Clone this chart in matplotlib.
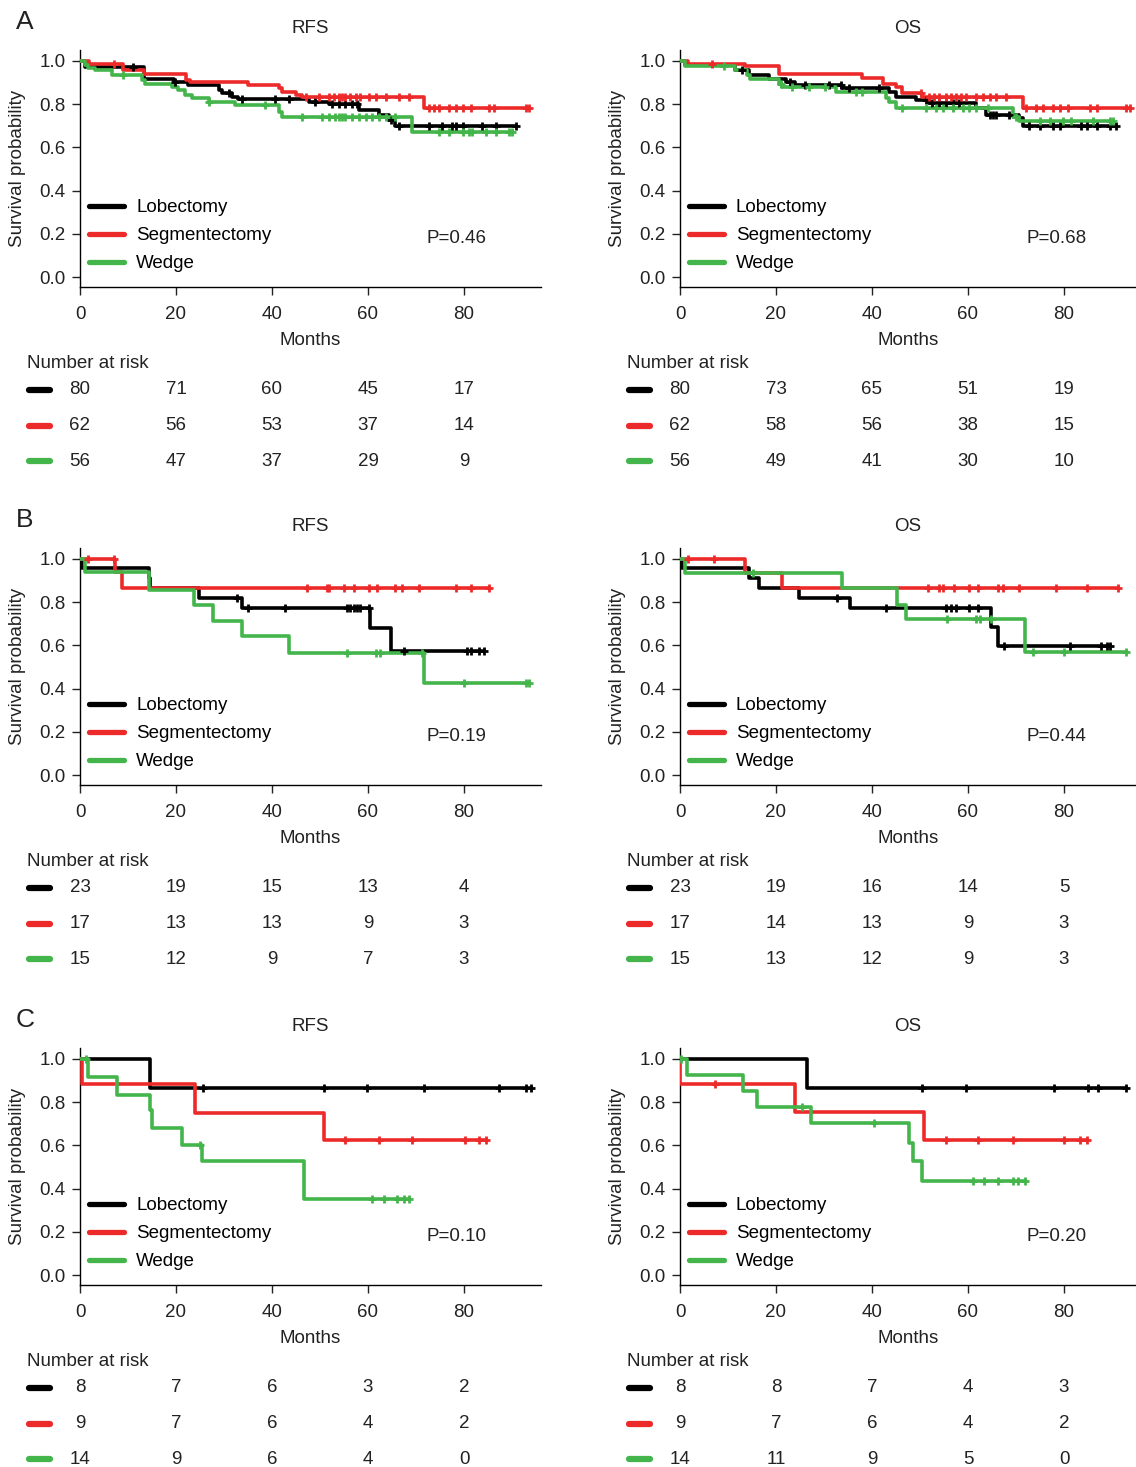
import numpy as np
import matplotlib
matplotlib.use("Agg")
import matplotlib.pyplot as plt
import matplotlib.transforms as mtransforms
from matplotlib.lines import Line2D

plt.rcParams['font.family'] = ['Liberation Sans', 'DejaVu Sans']

###########################################
# Colours and group names

groups = ["Lobectomy", "Segmentectomy", "Wedge"]
colors = ["#000000", "#ec2a2a", "#43b54a"]
risk_times = [0, 20, 40, 60, 80]

###########################################
# Panel A, RFS

a_rfs_lob_t = [0, 1.0, 13.3, 19.5, 22.6, 28.9, 29.6, 31.7, 33.0, 47.7, 51.8, 58.1, 62.3, 64.3, 65.7]
a_rfs_lob_s = [1.0, 0.972, 0.918, 0.90, 0.888, 0.865, 0.849, 0.834, 0.822, 0.81, 0.80, 0.772, 0.75, 0.726, 0.70]
a_rfs_lob_c = [11.1, 19.8, 31.0, 33.7, 40.7, 43.5, 49.0, 52.5, 53.9, 55.3, 56.7, 57.8, 64.7, 66.4,
               72.7, 75.5, 77.6, 78.3, 79.7, 83.8, 86.6, 90.8]
a_rfs_seg_t = [0, 1.8, 9.0, 13.3, 22.0, 23.0, 35.1, 41.4, 42.1, 44.9, 46.3, 71.7]
a_rfs_seg_s = [1.0, 0.985, 0.957, 0.94, 0.91, 0.90, 0.888, 0.872, 0.857, 0.84, 0.834, 0.78]
a_rfs_seg_c = [7.0, 47.0, 49.7, 51.8, 52.9, 53.9, 54.6, 55.3, 56.3, 57.4, 58.4, 60.2, 61.6, 63.7,
               66.4, 68.5, 72.7, 73.7, 74.8, 76.9, 78.3, 79.7, 81.4, 85.2, 86.3, 92.9, 93.6]
a_rfs_wed_t = [0, 1.0, 1.7, 3.1, 6.6, 12.9, 13.6, 19.1, 20.5, 21.9, 23.3, 26.8, 32.3, 41.4, 42.1, 69.2]
a_rfs_wed_s = [1.0, 0.98, 0.965, 0.957, 0.934, 0.91, 0.895, 0.88, 0.865, 0.84, 0.826, 0.81, 0.795,
               0.765, 0.742, 0.673]
a_rfs_wed_c = [9.0, 26.8, 38.6, 46.3, 50.4, 51.8, 53.2, 53.9, 54.6, 55.3, 56.7, 58.1, 59.5, 60.9,
               62.3, 63.7, 65.7, 74.8, 76.9, 79.7, 81.0, 81.7, 84.5, 86.6, 89.4, 90.1]
a_rfs_risk = [[80, 71, 60, 45, 17], [62, 56, 53, 37, 14], [56, 47, 37, 29, 9]]

###########################################
# Panel A, OS

a_os_lob_t = [0, 1.0, 11.5, 14.3, 18.5, 22.0, 24.0, 33.8, 43.5, 44.9, 49.1, 51.9, 61.7, 63.8, 70.7, 71.4]
a_os_lob_s = [1.0, 0.98, 0.957, 0.934, 0.918, 0.903, 0.888, 0.872, 0.857, 0.834, 0.818, 0.806,
              0.78, 0.75, 0.735, 0.70]
a_os_lob_c = [12.9, 23.0, 26.1, 31.0, 33.5, 35.2, 41.5, 51.2, 52.6, 54.0, 55.4, 56.8, 58.2, 64.5,
              65.2, 65.9, 68.6, 72.8, 74.9, 77.7, 79.1, 83.6, 84.7, 86.8, 89.5, 90.9]
a_os_seg_t = [0, 1.7, 13.6, 20.6, 38.0, 42.2, 45.0, 46.3, 50.5, 71.4]
a_os_seg_s = [1.0, 0.985, 0.975, 0.94, 0.92, 0.895, 0.88, 0.85, 0.834, 0.78]
a_os_seg_c = [6.6, 50.2, 51.9, 53.0, 54.0, 55.4, 56.4, 57.5, 58.5, 59.6, 61.7, 63.1, 64.5, 65.9,
              67.9, 72.1, 74.2, 75.6, 77.7, 79.1, 80.8, 85.4, 86.8, 93.0, 93.7]
a_os_wed_t = [0, 1.0, 11.5, 14.0, 14.6, 20.6, 21.3, 32.4, 42.9, 43.6, 45.0, 69.3, 70.7]
a_os_wed_s = [1.0, 0.975, 0.957, 0.934, 0.914, 0.895, 0.877, 0.857, 0.826, 0.81, 0.78, 0.74, 0.72]
a_os_wed_c = [9.1, 21.0, 23.3, 26.8, 30.3, 36.6, 38.0, 46.3, 51.2, 53.3, 54.7, 56.8, 58.9, 60.3,
              61.7, 64.1, 70.0, 74.9, 77.0, 79.8, 81.5, 86.1, 89.5, 90.2]
a_os_risk = [[80, 73, 65, 51, 19], [62, 58, 56, 38, 15], [56, 49, 41, 30, 10]]

###########################################
# Panel B, RFS

b_rfs_lob_t = [0, 0.4, 14.3, 14.6, 24.7, 33.7, 60.5, 64.7]
b_rfs_lob_s = [1.0, 0.957, 0.91, 0.865, 0.818, 0.772, 0.68, 0.572]
b_rfs_lob_c = [32.7, 35.1, 42.8, 55.7, 56.3, 57.0, 57.7, 58.4, 60.2, 67.5, 80.7, 81.4, 83.1, 84.2]
b_rfs_seg_t = [0, 7.3, 8.8]
b_rfs_seg_s = [1.0, 0.94, 0.865]
b_rfs_seg_c = [1.7, 7.0, 47.3, 51.5, 51.8, 55.0, 57.0, 60.2, 61.9, 65.7, 67.1, 70.6, 78.3, 81.4, 85.2]
b_rfs_wed_t = [0, 1.0, 14.3, 23.7, 27.8, 33.7, 43.5, 71.7]
b_rfs_wed_s = [1.0, 0.938, 0.857, 0.785, 0.714, 0.642, 0.565, 0.426]
b_rfs_wed_c = [55.7, 61.6, 62.6, 71.3, 80.0, 92.9, 93.6]
b_rfs_risk = [[23, 19, 15, 13, 4], [17, 13, 13, 9, 3], [15, 12, 9, 7, 3]]

###########################################
# Panel B, OS

b_os_lob_t = [0, 0.4, 14.3, 16.4, 24.7, 35.5, 64.8, 66.2]
b_os_lob_s = [1.0, 0.957, 0.91, 0.865, 0.818, 0.772, 0.683, 0.597]
b_os_lob_c = [32.8, 42.9, 55.4, 56.4, 57.5, 60.3, 62.0, 67.6, 81.2, 87.8, 88.9, 89.5]
b_os_seg_t = [0, 13.6, 21.3]
b_os_seg_s = [1.0, 0.934, 0.865]
b_os_seg_c = [1.7, 7.0, 51.6, 54.0, 54.7, 57.1, 60.3, 62.0, 66.2, 67.2, 70.7, 78.4, 84.7, 91.3]
b_os_wed_t = [0, 1.0, 33.8, 45.3, 47.0, 71.8]
b_os_wed_s = [1.0, 0.935, 0.865, 0.788, 0.72, 0.57]
b_os_wed_c = [15.3, 55.7, 61.7, 62.4, 64.8, 73.5, 80.1, 93.0]
b_os_risk = [[23, 19, 16, 14, 5], [17, 14, 13, 9, 3], [15, 13, 12, 9, 3]]

###########################################
# Panel C, RFS

c_rfs_lob_t = [0, 14.6]
c_rfs_lob_s = [1.0, 0.865]
c_rfs_lob_c = [25.7, 50.8, 59.8, 71.7, 87.3, 92.9, 93.9]
c_rfs_seg_t = [0, 0.35, 24.0, 50.8]
c_rfs_seg_s = [1.0, 0.883, 0.75, 0.626]
c_rfs_seg_c = [55.3, 62.3, 69.2, 80.3, 83.1, 84.5]
c_rfs_wed_t = [0, 1.6, 7.7, 14.6, 15.1, 21.2, 25.4, 46.6]
c_rfs_wed_s = [1.0, 0.914, 0.834, 0.765, 0.68, 0.603, 0.526, 0.35]
c_rfs_wed_c = [1.2, 25.0, 60.9, 63.3, 66.1, 67.5, 68.5]
c_rfs_risk = [[8, 7, 6, 3, 2], [9, 7, 6, 4, 2], [14, 9, 6, 4, 0]]

###########################################
# Panel C, OS

c_os_lob_t = [0, 26.5]
c_os_lob_s = [1.0, 0.865]
c_os_lob_c = [50.5, 59.6, 78.0, 85.0, 87.1, 93.0]
c_os_seg_t = [0, 0.1, 24.0, 50.9]
c_os_seg_s = [1.0, 0.883, 0.754, 0.626]
c_os_seg_c = [7.3, 55.4, 62.0, 69.3, 80.1, 83.3, 84.7]
c_os_wed_t = [0, 1.4, 13.2, 16.0, 27.2, 47.7, 48.6, 50.5]
c_os_wed_s = [1.0, 0.923, 0.852, 0.775, 0.703, 0.611, 0.526, 0.434]
c_os_wed_c = [0.3, 25.4, 40.4, 61.0, 63.4, 66.2, 69.3, 70.4, 71.8]
c_os_risk = [[8, 8, 7, 4, 3], [9, 7, 6, 4, 2], [14, 11, 9, 5, 0]]

###########################################
# Figure geometry in pixels (figure is 1136 x 1467)

W, H = 1136, 1467
col_left = [80, 680]
col_right = [541, 1136]
row_top = [50, 548, 1048]
row_bottom = [287, 785, 1285]


def fx(px):
    return px / W


def fy(py):
    return 1 - py / H


def km_curve(ax, t, s, c, color):
    end = max(max(c), t[-1])
    ax.step(t + [end], s + [s[-1]], where="post", color=color, lw=2.6, zorder=3)
    t_arr = np.array(t)
    s_arr = np.array(s)
    idx = np.searchsorted(t_arr, np.array(c), side="right") - 1
    ax.plot(c, s_arr[idx], "+", color=color, ms=5.5, mew=2.0, zorder=4)


def draw_panel(row, col, curves, risk, title, pval, letter):
    left, right = col_left[col], col_right[col]
    top, bottom = row_top[row], row_bottom[row]
    ax = fig.add_axes([fx(left), fy(bottom), fx(right - left), (bottom - top) / H])

    for (t, s, c), color in zip(curves, colors):
        km_curve(ax, t, s, c, color)

    ax.set_xlim(0, (right - left) / 4.8)
    ax.set_ylim(-0.046, 1.05)
    ax.set_xticks([0, 20, 40, 60, 80])
    ax.set_yticks([0, 0.2, 0.4, 0.6, 0.8, 1.0])
    ax.set_yticklabels(["{:.1f}".format(v) for v in [0, 0.2, 0.4, 0.6, 0.8, 1.0]])
    ax.spines["top"].set_visible(False)
    ax.spines["right"].set_visible(False)
    for sp in ["left", "bottom"]:
        ax.spines[sp].set_linewidth(1.0)
    ax.tick_params(direction="out", length=5.5, width=1.0, labelsize=13.5, colors="#222222")
    ax.tick_params(axis="x", pad=8)
    ax.tick_params(axis="y", pad=5)
    ax.set_xlabel("Months", fontsize=13.5, color="#222222", labelpad=7)
    ax.set_ylabel("Survival probability", fontsize=13.5, color="#222222")
    ax.yaxis.set_label_coords(-0.118, 0.5)
    ax.set_title(title, fontsize=13.5, color="#222222", pad=12)

    handles = [Line2D([0], [0], color=cl, lw=3.8, solid_capstyle="round") for cl in colors]
    ax.legend(handles, groups, loc="lower left", bbox_to_anchor=(0.02, 0.062), frameon=False,
              fontsize=13.5, handlelength=1.85, handletextpad=0.65, labelspacing=0.58,
              borderpad=0, borderaxespad=0)
    ax.text(78.5, 0.18, pval, fontsize=13.5, color="#222222", ha="center", va="center")

    if col == 0:
        fig.text(fx(16), fy(top - 28), letter, fontsize=19, color="#222222", ha="left", va="center")

    # Number at risk table
    trans = mtransforms.blended_transform_factory(ax.transData, fig.transFigure)
    fig.text(fx(left - 53), fy(bottom + 76), "Number at risk", fontsize=13.5, color="#222222",
             ha="left", va="center")
    offsets = [103, 139, 174]
    for k in range(3):
        yk = fy(bottom + offsets[k])
        fig.add_artist(Line2D([fx(left - 51), fx(left - 30)], [yk, yk], color=colors[k], lw=4.5,
                              solid_capstyle="round"))
        for tm, n in zip(risk_times, risk[k]):
            ax.text(tm, yk, str(n), transform=trans, fontsize=13.5, color="#222222",
                    ha="center", va="center")
    return ax


fig = plt.figure(figsize=(W / 100, H / 100), dpi=100)

draw_panel(0, 0, [(a_rfs_lob_t, a_rfs_lob_s, a_rfs_lob_c), (a_rfs_seg_t, a_rfs_seg_s, a_rfs_seg_c),
                  (a_rfs_wed_t, a_rfs_wed_s, a_rfs_wed_c)], a_rfs_risk, "RFS", "P=0.46", "A")
draw_panel(0, 1, [(a_os_lob_t, a_os_lob_s, a_os_lob_c), (a_os_seg_t, a_os_seg_s, a_os_seg_c),
                  (a_os_wed_t, a_os_wed_s, a_os_wed_c)], a_os_risk, "OS", "P=0.68", "A")
draw_panel(1, 0, [(b_rfs_lob_t, b_rfs_lob_s, b_rfs_lob_c), (b_rfs_seg_t, b_rfs_seg_s, b_rfs_seg_c),
                  (b_rfs_wed_t, b_rfs_wed_s, b_rfs_wed_c)], b_rfs_risk, "RFS", "P=0.19", "B")
draw_panel(1, 1, [(b_os_lob_t, b_os_lob_s, b_os_lob_c), (b_os_seg_t, b_os_seg_s, b_os_seg_c),
                  (b_os_wed_t, b_os_wed_s, b_os_wed_c)], b_os_risk, "OS", "P=0.44", "B")
draw_panel(2, 0, [(c_rfs_lob_t, c_rfs_lob_s, c_rfs_lob_c), (c_rfs_seg_t, c_rfs_seg_s, c_rfs_seg_c),
                  (c_rfs_wed_t, c_rfs_wed_s, c_rfs_wed_c)], c_rfs_risk, "RFS", "P=0.10", "C")
draw_panel(2, 1, [(c_os_lob_t, c_os_lob_s, c_os_lob_c), (c_os_seg_t, c_os_seg_s, c_os_seg_c),
                  (c_os_wed_t, c_os_wed_s, c_os_wed_c)], c_os_risk, "OS", "P=0.20", "C")

fig.savefig("out.png", dpi=100)
